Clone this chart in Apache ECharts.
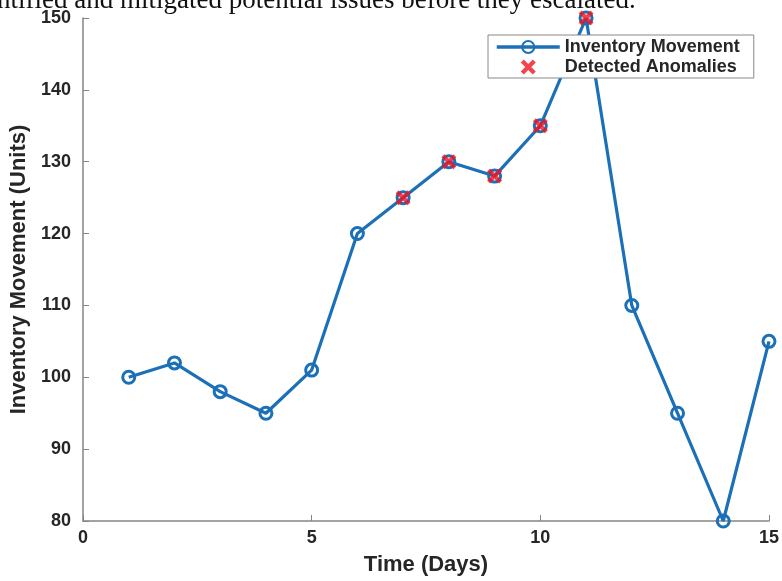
<!DOCTYPE html>
<html>
<head>
<meta charset="utf-8">
<script src="https://cdn.jsdelivr.net/npm/echarts@6/dist/echarts.min.js"></script>
<style>
  html, body { margin: 0; padding: 0; background: #fff; }
  #main { width: 782px; height: 581px; }
</style>
</head>
<body>
<div id="main"></div>
<script>
// data
var days = [1, 2, 3, 4, 5, 6, 7, 8, 9, 10, 11, 12, 13, 14, 15];
var movement = [100, 102, 98, 95, 101, 120, 125, 130, 128, 135, 150, 110, 95, 80, 105];
var anomalyDays = [7, 8, 9, 10, 11];
var anomalyValues = [125, 130, 128, 135, 150];

var blue = '#1c70b8';
var red = '#f01420';
var crossPath = 'path://M0,2 L2,0 L5,3 L8,0 L10,2 L7,5 L10,8 L8,10 L5,7 L2,10 L0,8 L3,5 Z';

var chart = echarts.init(document.getElementById('main'));

var option = {
  animation: false,
  backgroundColor: '#fff',
  textStyle: { fontFamily: 'Liberation Sans, Arial, sans-serif' },
  graphic: [{
    type: 'text',
    style: {
      x: -3,
      y: 14,
      verticalAlign: 'bottom',
      text: 'ntified and mitigated potential issues before they escalated.',
      font: '27px "Liberation Serif", "Times New Roman", serif',
      fill: '#111'
    }
  }],
  grid: { left: 83, right: 9, top: 18, bottom: 58 },
  legend: {
    orient: 'vertical',
    left: 488,
    top: 35,
    padding: [3, 14, 2, 7],
    itemGap: 2,
    itemWidth: 63,
    itemHeight: 15,
    backgroundColor: '#fff',
    borderColor: '#888',
    borderWidth: 1,
    borderRadius: 0,
    textStyle: { fontSize: 18, fontWeight: 'bold', color: '#262626' },
    data: [
      { name: 'Inventory Movement', lineStyle: { width: 3.5 } },
      { name: 'Detected Anomalies' }
    ]
  },
  xAxis: {
    type: 'value',
    min: 0,
    max: 15,
    interval: 5,
    name: 'Time (Days)',
    nameLocation: 'middle',
    nameGap: 33,
    nameTextStyle: { fontSize: 22, fontWeight: 'bold', color: '#262626' },
    axisLine: { lineStyle: { color: '#858585', width: 1.5 } },
    axisTick: { inside: true, length: 6, lineStyle: { color: '#858585' } },
    axisLabel: { fontSize: 18, fontWeight: 'bold', color: '#262626', margin: 8 },
    splitLine: { show: false }
  },
  yAxis: {
    type: 'value',
    min: 80,
    max: 150,
    interval: 10,
    name: 'Inventory Movement (Units)',
    nameLocation: 'middle',
    nameGap: 50,
    nameTextStyle: { fontSize: 22, fontWeight: 'bold', color: '#262626' },
    axisLine: { show: true, lineStyle: { color: '#858585', width: 1.5 } },
    axisTick: { show: true, inside: true, length: 6, lineStyle: { color: '#858585' } },
    axisLabel: { fontSize: 18, fontWeight: 'bold', color: '#262626', margin: 12 },
    splitLine: { show: false }
  },
  series: [
    {
      name: 'Inventory Movement',
      type: 'line',
      data: days.map(function (d, i) { return [d, movement[i]]; }),
      symbol: 'circle',
      symbolSize: 12,
      lineStyle: { color: blue, width: 3.2 },
      itemStyle: { color: 'rgba(255,255,255,0)', borderColor: blue, borderWidth: 3 },
      z: 2
    },
    {
      name: 'Detected Anomalies',
      type: 'scatter',
      data: anomalyDays.map(function (d, i) { return [d, anomalyValues[i]]; }),
      symbol: crossPath,
      symbolSize: 15,
      itemStyle: { color: red },
      z: 3
    }
  ]
};

chart.setOption(option);
</script>
</body>
</html>
